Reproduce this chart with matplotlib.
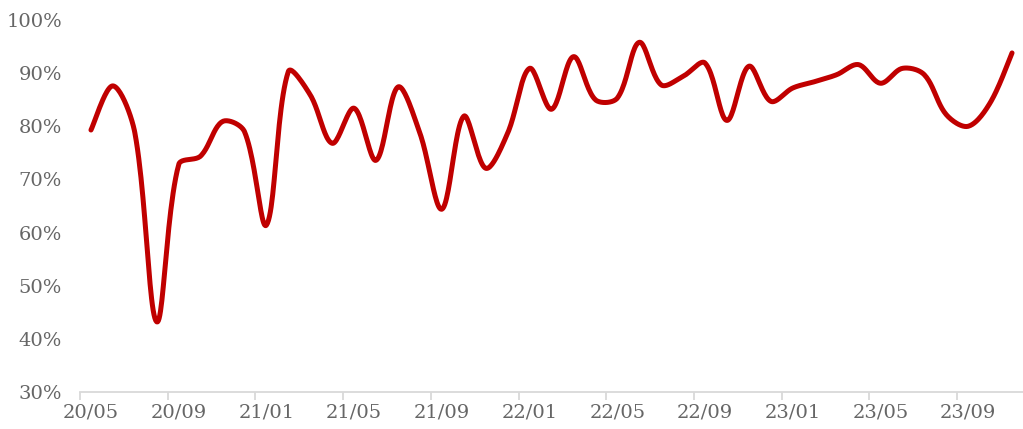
import numpy as np
import matplotlib
matplotlib.use("Agg")
import matplotlib.pyplot as plt
from matplotlib.ticker import FuncFormatter

# monthly series, 2020/05 .. 2023/11
months = ["20/05", "20/06", "20/07", "20/08", "20/09", "20/10", "20/11", "20/12",
          "21/01", "21/02", "21/03", "21/04", "21/05", "21/06", "21/07", "21/08",
          "21/09", "21/10", "21/11", "21/12", "22/01", "22/02", "22/03", "22/04",
          "22/05", "22/06", "22/07", "22/08", "22/09", "22/10", "22/11", "22/12",
          "23/01", "23/02", "23/03", "23/04", "23/05", "23/06", "23/07", "23/08",
          "23/09", "23/10", "23/11"]
values = [79.3, 87.6, 78.8, 43.2, 72.8, 74.4, 80.9, 79.0,
          61.4, 90.3, 85.9, 76.8, 83.4, 73.6, 87.4, 78.7,
          64.4, 81.9, 72.1, 78.7, 90.9, 83.2, 93.1, 85.0,
          85.3, 95.8, 87.8, 89.4, 91.9, 81.1, 91.3, 84.7,
          87.2, 88.4, 89.7, 91.6, 88.1, 90.9, 89.7, 82.2,
          80.0, 84.4, 93.8]


def smooth(x, y, yscale, steps=24):
    # bezier smoothing like excel: tangents weighted by chord lengths
    x = np.asarray(x, float)
    y = np.asarray(y, float)
    P = np.column_stack([x, y * yscale])
    n = len(P)
    xs, ys = [], []
    for i in range(n - 1):
        p0 = P[max(i - 1, 0)]
        p1, p2 = P[i], P[i + 1]
        p3 = P[min(i + 2, n - 1)]
        d01 = np.hypot(*(p1 - p0))
        d12 = np.hypot(*(p2 - p1))
        d23 = np.hypot(*(p3 - p2))
        f1 = d12 / (d01 + d12) / 3 if d01 > 0 else 1 / 6
        f2 = d12 / (d12 + d23) / 3 if d23 > 0 else 1 / 6
        c1 = p1 + (p2 - p0) * f1
        c2 = p2 - (p3 - p1) * f2
        t = np.linspace(0, 1, steps, endpoint=(i == n - 2))[:, None]
        pts = (1 - t) ** 3 * p1 + 3 * (1 - t) ** 2 * t * c1 + 3 * (1 - t) * t ** 2 * c2 + t ** 3 * p2
        xs.append(pts[:, 0])
        ys.append(pts[:, 1] / yscale)
    return np.concatenate(xs), np.concatenate(ys)


plt.rcParams["font.family"] = ["DejaVu Serif"]

fig = plt.figure(figsize=(10.23, 4.29), dpi=100)
ax = fig.add_axes([0.0782, 0.0862, 0.9218, 0.8672])

idx = np.arange(len(months))
# pixels per month ~21.9, pixels per 1% ~5.31
sx, sy = smooth(idx, values, yscale=5.31 / 21.9)
ax.plot(sx, sy, color="#C00000", linewidth=3.6, solid_capstyle="round")

ax.set_xlim(-0.5, len(months) - 0.5)
ax.set_ylim(30, 100)
ax.set_yticks(np.arange(30, 101, 10))
ax.yaxis.set_major_formatter(FuncFormatter(lambda v, p: f"{v:.0f}%"))

# labels every 4 months, tick marks at category boundaries
ax.set_xticks(idx[::4])
ax.set_xticklabels(months[::4])
ax.set_xticks(np.arange(-0.5, len(months), 4), minor=True)
ax.tick_params(axis="x", which="major", length=0, pad=8, labelsize=14, colors="#666666")
ax.tick_params(axis="x", which="minor", length=6, width=1.3, color="#d9d9d9")
ax.tick_params(axis="y", length=0, pad=13, labelsize=14, colors="#666666")

for s in ["top", "right", "left"]:
    ax.spines[s].set_visible(False)
ax.spines["bottom"].set_color("#d9d9d9")
ax.spines["bottom"].set_linewidth(1.3)

fig.savefig("out.png", dpi=100)
